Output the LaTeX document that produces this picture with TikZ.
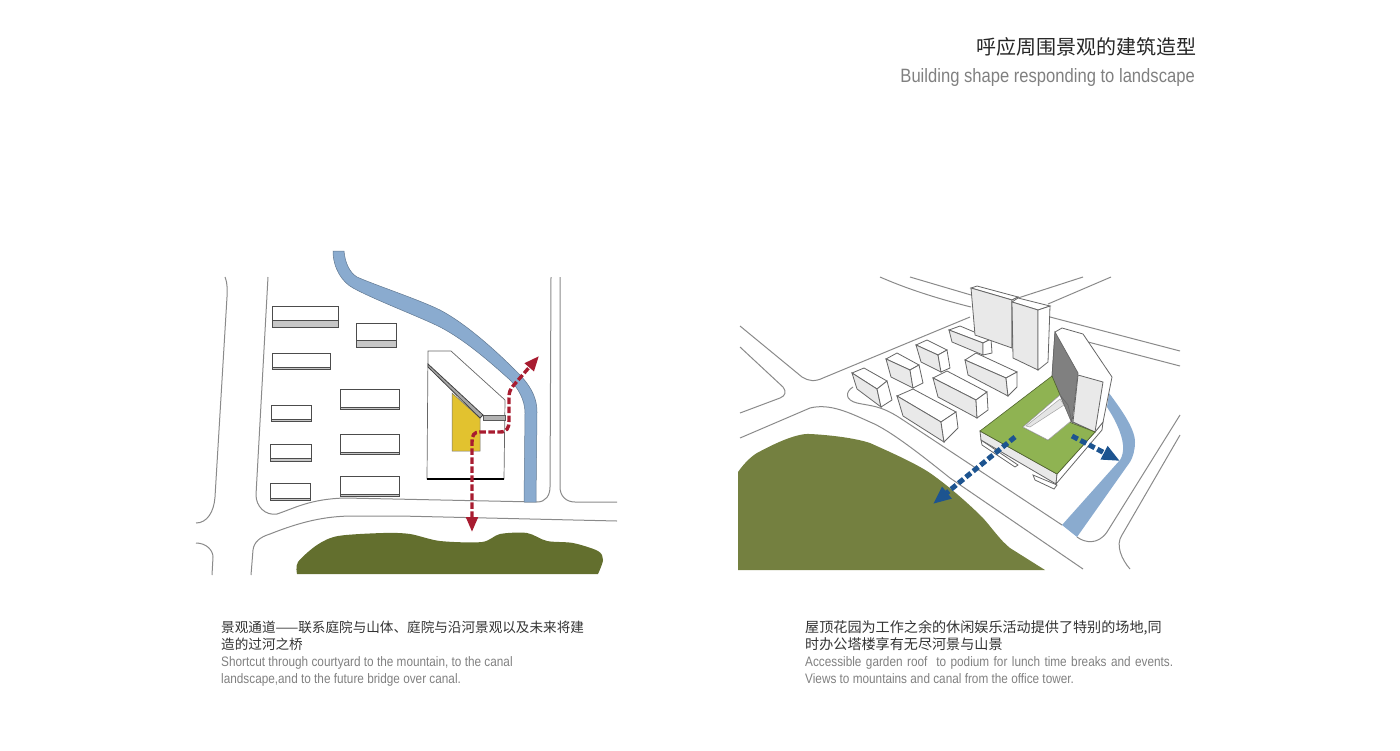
\documentclass[tikz,border=0pt]{standalone}
\usepackage{fontspec}
\usetikzlibrary{arrows.meta}
\setmainfont{Liberation Sans}
\newfontfamily\cjk{Noto Sans CJK SC}
\newfontfamily\latinnarrow[FakeStretch=0.86]{Liberation Sans}
\definecolor{roadgray}{HTML}{8A8A8A}
\definecolor{canal}{HTML}{8AABCF}
\definecolor{hillA}{HTML}{636F2E}
\definecolor{hillB}{HTML}{748040}
\definecolor{wallgray}{HTML}{E9E9E9}
\definecolor{roofgreen}{HTML}{8FB352}
\definecolor{court}{HTML}{E2C22F}
\definecolor{pathred}{HTML}{A81C30}
\definecolor{pathblue}{HTML}{1D5490}
\tikzset{
  road/.style={draw=roadgray,line width=1pt},
  slab/.style={draw=black!70,fill=white,line width=1pt},
  wall/.style={draw=black!60,fill=wallgray,line width=0.8pt},
  sidewall/.style={draw=black!60,fill=white,line width=0.8pt},
  redpath/.style={pathred,line width=3.4pt,dash pattern=on 6.5pt off 2.5pt,{Triangle[length=15pt,width=11.5pt]}-{Triangle[length=15pt,width=11.5pt]}},
  bluepath/.style={pathblue,line width=5pt,dash pattern=on 6.5pt off 3pt,-{Triangle[length=18pt,width=14pt]}},
  titlecn/.style={font=\cjk\fontsize{20}{22}\selectfont,text=black!85,inner sep=0pt},
  titleen/.style={font=\latinnarrow\fontsize{19.3}{22}\selectfont,text=black!50,inner sep=0pt},
  notecn/.style={font=\cjk\fontsize{13.6}{16}\selectfont,text=black!80,inner sep=0pt,anchor=base west},
  notecnwide/.style={notecn,font=\cjk\fontsize{14.1}{16}\selectfont},
  noteen/.style={font=\latinnarrow\fontsize{13.7}{16}\selectfont,text=black!50,inner sep=0pt,anchor=base west}
}
\newcommand{\plotbox}[5]{%
  \draw[slab] (#1,#3) rectangle (#2,#4);
  \draw[draw=black!70,fill=black!22,line width=0.8pt] (#1,#5) rectangle (#2,#4);
}
\newcommand{\house}[7]{%
  \draw[sidewall] #1 -- #2 -- #3 -- #4 -- cycle;
  \draw[wall] #1 -- #4 -- #5 -- #6 -- cycle;
  \draw[sidewall] #4 -- #3 -- #7 -- #5 -- cycle;
}
\begin{document}
\begin{tikzpicture}[x=1pt,y=-1pt]
  \useasboundingbox (0,0) rectangle (1400,750);

  \node[titlecn,anchor=base east] (titlecn) at (1197,54) {呼应周围景观的建筑造型};
  \node[titleen,anchor=base east] (titleen) at (1195,82) {Building shape responding to landscape};

  % left plan
  \draw[road] (225,277) .. controls (228,285) and (227,290) .. (227,297) -- (215,497) .. controls (214,512) and (207,523) .. (196,523);
  \draw[road] (268,277) -- (256,495) .. controls (256,506) and (265,516) .. (277,514) .. controls (295,508) and (310,499) .. (345,498) -- (537,502) .. controls (546,502) and (550,495) .. (550,487) -- (551,277);
  \draw[road] (560,277) -- (560,487) .. controls (560,496) and (566,502) .. (575,502) -- (617,502);
  \draw[road] (251,575) -- (253,550) .. controls (254,542) and (260,537) .. (270,534) .. controls (300,522) and (325,516) .. (353,516) -- (400,516) -- (617,521);
  \draw[road] (196,543) .. controls (206,543) and (213,550) .. (213,557) -- (212,575);

  \draw[fill=canal,draw=canal!70!black,line width=0.5pt] (333,251) -- (344,251)
    .. controls (345,262) and (349,272) .. (357,277) .. controls (375,285) and (420,300) .. (440,310)
    .. controls (465,323) and (495,350) .. (513,368) .. controls (528,382) and (537,395) .. (537,412)
    -- (536,502) -- (524,502) -- (525,413) .. controls (525,400) and (518,388) .. (510,380)
    .. controls (490,362) and (465,340) .. (440,327) .. controls (420,317) and (375,300) .. (353,288)
    .. controls (342,282) and (333,268) .. cycle;

  \draw[fill=hillA,draw=none] plot[smooth,tension=0.5] coordinates {(297,574) (298,562) (317,545) (338,536) (383,533) (410,534) (440,541) (482,542) (500,534) (527,533) (547,541) (573,543) (598,551) (603,560) (598,574)} -- cycle;

  \plotbox{272}{338}{306}{327}{320}
  \plotbox{356}{396}{323}{347}{340}
  \plotbox{272}{330}{353}{369}{367}
  \plotbox{340}{399}{389}{409}{407}
  \plotbox{271}{311}{405}{421}{419}
  \plotbox{270}{311}{444}{461}{458}
  \plotbox{340}{399}{434}{454}{452}
  \plotbox{270}{310}{483}{500}{498}
  \plotbox{340}{399}{476}{496}{494}

  \draw[draw=black!60,fill=white,line width=0.7pt] (428,351) -- (451,351) -- (505,400) -- (504,479) -- (427,479) -- cycle;
  \draw[black,line width=1.2pt] (427,479) -- (504,479);
  \draw[fill=black!30,draw=black!65,line width=0.6pt] (483,415) rectangle (505,420);
  \draw[fill=court,draw=black!55,line width=0.5pt] (452,393) -- (480,418) -- (480,451) -- (452,451) -- cycle;
  \draw[fill=black!35,draw=black!75,line width=0.8pt] (428,364) -- (483,415) -- (480,418) -- (428,367) -- cycle;

  \coordinate (southtip) at (472,532);
  \coordinate (canaltip) at (539,356);
  \draw[redpath] (southtip) -- (472,442) .. controls (472,435) and (474,432) .. (480,432) -- (500,432) .. controls (507,432) and (509,428) .. (509,421) -- (509,398) .. controls (509,392) and (510,390) .. (513,386) -- (canaltip);

  % right view
  \draw[road] (880,277) .. controls (905,288) and (935,298) .. (971,307);
  \draw[road] (910,277) -- (971,295);
  \draw[road] (1083,277) -- (1018,298);
  \draw[road] (1111,277) -- (1048,304);
  \draw[road] (1050,317) -- (1180,351);
  \draw[road] (1088,342) -- (1180,366);
  \draw[road] (740,326) -- (802,377) .. controls (808,381) and (815,382) .. (823,378) -- (970,317);
  \draw[road] (740,347) -- (783,387) .. controls (787,392) and (785,396) .. (780,398) -- (740,413);
  \draw[road] (740,438) -- (810,408) .. controls (830,403) and (850,413) .. (870,422) .. controls (890,430) and (925,458) .. (950,478) -- (1083,569);
  \draw[road] (853,387) .. controls (845,392) and (845,400) .. (857,403) .. controls (870,406) and (880,405) .. (900,418) -- (1062,525);
  \draw[road] (1077,537) .. controls (1085,543) and (1098,545) .. (1107,532) -- (1180,415);
  \draw[road] (1180,435) -- (1122,535) .. controls (1115,545) and (1122,560) .. (1130,569);

  \draw[fill=canal,draw=none] (1109,393) .. controls (1120,408) and (1135,428) .. (1135,442) .. controls (1135,450) and (1133,457) .. (1130,462) -- (1077,537) -- (1062,525) -- (1120,460) .. controls (1125,452) and (1124,440) .. (1117,425) .. controls (1114,418) and (1110,412) .. (1107,407) -- cycle;

  \draw[fill=hillB,draw=none] (738,570) -- (738,472) .. controls (745,462) and (752,456) .. (757,453) .. controls (770,446) and (795,433) .. (810,434) .. controls (830,435) and (855,438) .. (870,443) .. controls (890,452) and (915,463) .. (930,473) .. controls (950,487) and (970,505) .. (983,518) .. controls (992,528) and (1000,540) .. (1010,548) -- (1045,570) -- cycle;

  \house{(852,373)}{(864,368)}{(887,381)}{(877,389)}{(881,407)}{(857,389)}{(892,400)}
  \house{(886,359)}{(897,353)}{(919,365)}{(910,370)}{(913,388)}{(891,377)}{(923,383)}
  \house{(916,345)}{(927,340)}{(947,350)}{(938,355)}{(941,372)}{(921,362)}{(950,368)}
  \house{(949,330)}{(960,326)}{(991,339)}{(983,343)}{(983,355)}{(952,342)}{(992,353)}
  \house{(933,378)}{(947,371)}{(987,392)}{(976,400)}{(977,418)}{(938,397)}{(988,410)}
  \house{(965,360)}{(976,353)}{(1017,372)}{(1006,378)}{(1008,396)}{(968,375)}{(1017,387)}
  \house{(897,396)}{(913,389)}{(956,412)}{(941,422)}{(944,442)}{(903,416)}{(958,428)}
  \house{(971,288)}{(977,286)}{(1018,297)}{(1012,300)}{(1012,348)}{(975,335)}{(1012,348)}
  \house{(1012,302)}{(1018,298)}{(1050,306)}{(1038,310)}{(1038,370)}{(1013,358)}{(1048,362)}

  \draw[sidewall] (981,440) -- (982,445) -- (1015,467) -- (1018,465) -- cycle;
  \draw[sidewall] (1033,475) -- (1035,480) -- (1054,489) -- (1057,485) -- cycle;
  \draw[wall] (980,431) -- (1057,474) -- (1056,484) -- (981,440) -- cycle;
  \draw[sidewall] (1057,474) -- (1095,432) -- (1103,422) -- (1102,430) -- (1056,484) -- cycle;

  \draw[sidewall] (1055,332) -- (1062,328) -- (1083,334) -- (1112,377) -- (1103,422) -- (1095,432) -- (1072,422) -- (1052,377) -- cycle;
  \draw[draw=black!60,fill=black!50,line width=0.7pt] (1055,332) -- (1078,373) -- (1072,422) -- (1060,395) -- (1052,377) -- cycle;
  \draw[wall] (1078,375) -- (1103,382) -- (1095,432) -- (1073,422) -- cycle;

  \draw[fill=roofgreen,draw=black!45!roofgreen,line width=0.6pt] (1052,376) -- (1060,395) -- (1023,427) -- (1048,440) -- (1069,422) -- (1095,432) -- (1057,474) -- (980,431) -- cycle;
  \draw[draw=black!35,fill=white,line width=0.6pt] (1060,395) -- (1071,421) -- (1048,440) -- (1023,427) -- cycle;
  \draw[draw=black!35,fill=black!10,line width=0.5pt] (1060,399) -- (1064,405) -- (1030,427) -- (1026,426) -- cycle;
  \draw[draw=black!60,fill=black!50,line width=0.5pt] (1060,395) -- (1071,421) -- (1072,422) -- (1068,405) -- cycle;

  \coordinate (hillstart) at (1015,437);
  \coordinate (hilltip) at (933,504);
  \coordinate (canalstart) at (1072,436);
  \coordinate (canalend) at (1120,461);
  \draw[bluepath] (hillstart) -- (hilltip);
  \draw[bluepath] (canalstart) -- (canalend);

  \node[notecn] (noteaone) at (221,632) {景观通道——联系庭院与山体、庭院与沿河景观以及未来将建};
  \node[notecn] (noteatwo) at (221,649) {造的过河之桥};
  \node[noteen] (noteathree) at (221,666) {Shortcut through courtyard to the mountain, to the canal};
  \node[noteen] (noteafour) at (221,683) {landscape,and to the future bridge over canal.};
  \node[notecnwide] (notebone) at (805,632) {屋顶花园为工作之余的休闲娱乐活动提供了特别的场地,同};
  \node[notecnwide] (notebtwo) at (805,649) {时办公塔楼享有无尽河景与山景};
  \node[noteen] (notebthree) at (805,666) {\makebox[368pt][s]{Accessible garden roof\ \ to podium for lunch time breaks and events.}};
  \node[noteen] (notebfour) at (805,683) {Views to mountains and canal from the office tower.};
\end{tikzpicture}
\end{document}
